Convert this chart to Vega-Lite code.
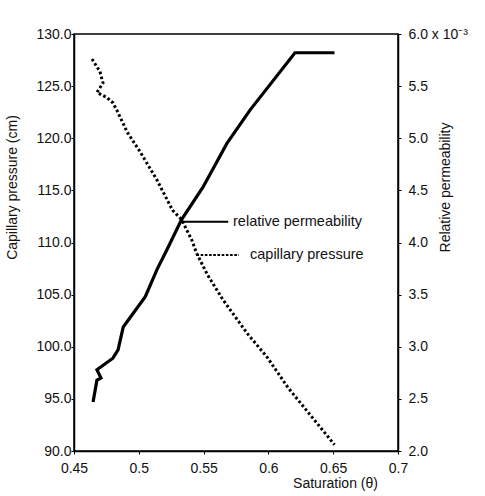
{
  "$schema": "https://vega.github.io/schema/vega-lite/v6.json",
  "width": 324,
  "height": 417,
  "autosize": "none",
  "padding": {"left": 74, "top": 34, "right": 87, "bottom": 45},
  "background": "white",
  "config": {
    "font": "Liberation Sans",
    "view": {"stroke": "black", "strokeWidth": 1.5},
    "axis": {
      "grid": false,
      "domainColor": "black",
      "domainWidth": 1.5,
      "tickColor": "black",
      "labelColor": "#111",
      "titleColor": "#111",
      "labelFontSize": 14,
      "titleFontSize": 14,
      "titleFontWeight": "normal",
      "tickSize": 3,
      "labelFlush": false
    }
  },
  "datasets": {
    "cp": [
      {"x": 0.4639, "cp": 127.6},
      {"x": 0.470, "cp": 126.4},
      {"x": 0.4724, "cp": 125.3},
      {"x": 0.4677, "cp": 124.4},
      {"x": 0.4755, "cp": 123.9},
      {"x": 0.480, "cp": 123.4},
      {"x": 0.483, "cp": 122.7},
      {"x": 0.491, "cp": 120.6},
      {"x": 0.501, "cp": 118.7},
      {"x": 0.514, "cp": 116.0},
      {"x": 0.526, "cp": 113.1},
      {"x": 0.533, "cp": 112.2},
      {"x": 0.541, "cp": 110.2},
      {"x": 0.5445, "cp": 109.0},
      {"x": 0.553, "cp": 106.9},
      {"x": 0.565, "cp": 104.5},
      {"x": 0.5835, "cp": 101.3},
      {"x": 0.599, "cp": 99.0},
      {"x": 0.615, "cp": 96.1},
      {"x": 0.651, "cp": 90.6}
    ],
    "rp": [
      {"x": 0.4647, "rp": 2.47},
      {"x": 0.4677, "rp": 2.68},
      {"x": 0.4708, "rp": 2.70},
      {"x": 0.4677, "rp": 2.78},
      {"x": 0.480, "rp": 2.89},
      {"x": 0.484, "rp": 2.97},
      {"x": 0.488, "rp": 3.19},
      {"x": 0.505, "rp": 3.48},
      {"x": 0.514, "rp": 3.74},
      {"x": 0.5217, "rp": 3.93},
      {"x": 0.533, "rp": 4.22},
      {"x": 0.5495, "rp": 4.53},
      {"x": 0.568, "rp": 4.95},
      {"x": 0.5858, "rp": 5.27},
      {"x": 0.6205, "rp": 5.82},
      {"x": 0.651, "rp": 5.82}
    ],
    "leaders": [
      {"g": "rp", "x": 0.533, "y": 112.0},
      {"g": "rp", "x": 0.569, "y": 112.0},
      {"g": "cp", "x": 0.5445, "y": 108.8},
      {"g": "cp", "x": 0.5773, "y": 108.8}
    ],
    "labels": [
      {"x": 0.5727, "y": 112.0, "label": "relative  permeability"},
      {"x": 0.5858, "y": 108.8, "label": "capillary  pressure"}
    ]
  },
  "layer": [
    {
      "layer": [
        {
          "data": {"name": "cp"},
          "mark": {"type": "line", "color": "black", "strokeWidth": 3, "strokeDash": [2.6, 2.4]},
          "encoding": {
            "x": {"field": "x", "type": "quantitative", "scale": {"domain": [0.45, 0.7], "nice": false, "zero": false},
              "axis": {"values": [0.45, 0.5, 0.55, 0.6, 0.65, 0.7], "labelExpr": "format(datum.value, '.2~f')", "labelPadding": 7, "title": "Saturation  (θ)", "titleX": 261, "titleY": 32, "titleBaseline": "middle"}},
            "y": {"field": "cp", "type": "quantitative", "scale": {"domain": [90, 130], "nice": false, "zero": false},
              "axis": {"values": [90, 95, 100, 105, 110, 115, 120, 125, 130], "format": ".1f", "labelPadding": 0, "title": "Capillary pressure (cm)", "titleAngle": 270, "titleX": -62, "titleY": 153, "titleBaseline": "middle", "titleAlign": "center"}},
            "order": {"value": null}
          }
        },
        {
          "data": {"name": "leaders"},
          "mark": {"type": "line", "color": "black", "strokeWidth": 2},
          "encoding": {
            "x": {"field": "x", "type": "quantitative"},
            "y": {"field": "y", "type": "quantitative"},
            "detail": {"field": "g"},
            "strokeDash": {"field": "g", "type": "nominal", "scale": {"domain": ["rp", "cp"], "range": [[1, 0], [2.6, 1.6]]}, "legend": null}
          }
        },
        {
          "data": {"name": "labels"},
          "mark": {"type": "text", "align": "left", "baseline": "middle", "fontSize": 14.5, "color": "#111", "font": "Liberation Sans"},
          "encoding": {
            "x": {"field": "x", "type": "quantitative"},
            "y": {"field": "y", "type": "quantitative"},
            "text": {"field": "label"}
          }
        }
      ]
    },
    {
      "data": {"name": "rp"},
      "mark": {"type": "line", "color": "black", "strokeWidth": 3.2},
      "encoding": {
        "x": {"field": "x", "type": "quantitative", "scale": {"domain": [0.45, 0.7], "nice": false, "zero": false},
          "axis": {"values": [0.45, 0.5, 0.55, 0.6, 0.65, 0.7], "labelExpr": "format(datum.value, '.2~f')", "labelPadding": 7, "title": "Saturation  (θ)", "titleX": 261, "titleY": 32, "titleBaseline": "middle"}},
        "y": {"field": "rp", "type": "quantitative", "scale": {"domain": [2, 6], "nice": false, "zero": false},
          "axis": {"orient": "right", "values": [2, 2.5, 3, 3.5, 4, 4.5, 5, 5.5, 6], "labelExpr": "datum.value == 6 ? '6.0 x 10⁻³' : format(datum.value, '.1f')", "labelPadding": 7, "title": "Relative  permeability", "titleAngle": 270, "titleX": 47, "titleY": 153, "titleBaseline": "middle", "titleAlign": "center"}},
        "order": {"value": null}
      }
    }
  ],
  "resolve": {"scale": {"y": "independent"}}
}
